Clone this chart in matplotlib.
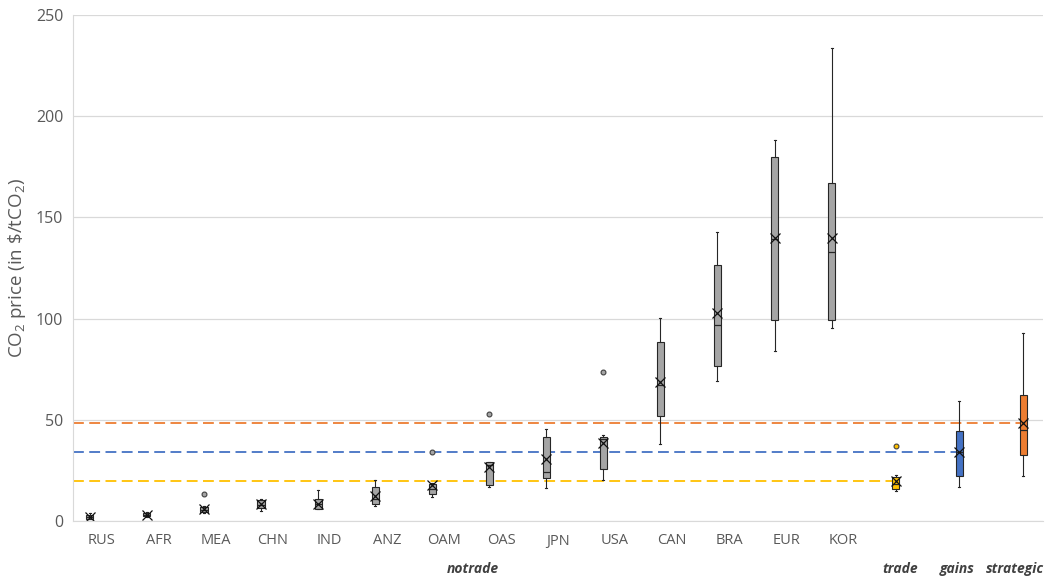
import matplotlib
matplotlib.use("Agg")
import matplotlib.pyplot as plt

plt.rcParams["font.family"] = ["Open Sans", "DejaVu Sans"]
plt.rcParams["mathtext.fontset"] = "custom"
plt.rcParams["mathtext.rm"] = "Open Sans"
plt.rcParams["mathtext.it"] = "Open Sans:italic"

# categories on the axis
regions = ["RUS", "AFR", "MEA", "CHN", "IND", "ANZ", "OAM", "OAS", "JPN", "USA", "CAN", "BRA", "EUR", "KOR"]
groups = ["notrade", "trade", "gains", "strategic"]

# notrade box stats per region
nt_whislo = [0.8, 2.0, 4.0, 4.9, 5.9, 7.4, 12.0, 17.0, 16.2, 20.3, 38.0, 69.2, 84.0, 95.5]
nt_q1 = [1.2, 2.3, 4.6, 6.5, 6.0, 8.4, 13.5, 17.6, 21.4, 25.5, 51.9, 76.7, 99.2, 99.2]
nt_med = [2.0, 3.0, 5.5, 8.0, 8.5, 10.7, 15.6, 27.7, 24.4, 40.7, 67.2, 96.8, 139.5, 132.8]
nt_q3 = [3.2, 4.0, 7.0, 10.4, 10.9, 16.6, 18.1, 29.0, 41.3, 41.7, 88.3, 126.3, 179.8, 166.8]
nt_whishi = [4.0, 4.3, 7.5, 10.8, 15.2, 20.3, 18.9, 29.0, 45.3, 42.6, 100.1, 142.6, 188.1, 233.9]
nt_mean = [2.1, 3.0, 5.9, 8.4, 8.4, 12.4, 17.6, 26.8, 30.5, 38.4, 68.5, 102.8, 139.7, 140.0]
nt_fliers = [[], [], [13.2], [], [], [], [34.2], [53.0], [], [73.8], [], [], [], []]

# world-wide scenarios: trade, gains, strategic
sc_whislo = [14.8, 16.6, 22.4]
sc_q1 = [15.7, 22.2, 32.5]
sc_med = [18.3, 33.9, 45.1]
sc_q3 = [21.6, 44.3, 62.4]
sc_whishi = [22.6, 59.1, 93.0]
sc_mean = [19.8, 33.9, 48.6]
sc_fliers = [[37.2], [], []]
sc_colors = ["#FFC000", "#4472C4", "#ED7D31"]

offsets = [-0.205, -0.085, 0.035, 0.155]


def stats(lo, q1, med, q3, hi, mean, fl):
    return {"whislo": lo, "q1": q1, "med": med, "q3": q3, "whishi": hi, "mean": mean, "fliers": fl}


fig = plt.figure(figsize=(10.56, 5.79), dpi=100)
ax = fig.add_axes([73 / 1056, 58 / 579, 970 / 1056, 506 / 579])

common = dict(widths=0.125, showmeans=True, patch_artist=True, capwidths=0.035,
              whiskerprops=dict(color="#262626", lw=0.8),
              capprops=dict(color="#262626", lw=0.8),
              medianprops=dict(color="#262626", lw=0.9),
              meanprops=dict(marker="x", markersize=6.5, markeredgecolor="#111111", markeredgewidth=0.9))

nt_stats = [stats(*v) for v in zip(nt_whislo, nt_q1, nt_med, nt_q3, nt_whishi, nt_mean, nt_fliers)]
nt_pos = [i + offsets[0] for i in range(len(regions))]
ax.bxp(nt_stats, positions=nt_pos,
       boxprops=dict(facecolor="#A5A5A5", edgecolor="#262626", lw=0.8),
       flierprops=dict(marker="o", markersize=3.5, markerfacecolor="#A5A5A5", markeredgecolor="#404040", markeredgewidth=0.8),
       **common)

n = len(regions)
for k in range(3):
    pos = n + k + offsets[k + 1]
    st = stats(sc_whislo[k], sc_q1[k], sc_med[k], sc_q3[k], sc_whishi[k], sc_mean[k], sc_fliers[k])
    ax.bxp([st], positions=[pos],
           boxprops=dict(facecolor=sc_colors[k], edgecolor="#262626", lw=0.8),
           flierprops=dict(marker="o", markersize=3.5, markerfacecolor=sc_colors[k], markeredgecolor="#404040", markeredgewidth=0.8),
           **common)
    ax.plot([-0.5, pos], [sc_mean[k], sc_mean[k]], color=sc_colors[k], lw=1.3, dashes=(6, 3), zorder=1)

ax.set_xlim(-0.5, n + 2.5)
ax.set_ylim(0, 250)
ax.set_yticks(range(0, 251, 50))
ax.set_xticks(range(n + 3))
ax.set_xticklabels(regions + ["", "", ""])
ax.tick_params(axis="x", length=0, pad=9, labelsize=10.5, labelcolor="#595959")
ax.tick_params(axis="y", length=0, pad=7, labelsize=11.5, labelcolor="#595959")
ax.grid(axis="y", color="#D9D9D9", lw=0.9)
ax.set_axisbelow(True)
for s in ["top", "right"]:
    ax.spines[s].set_visible(False)
ax.spines["left"].set_color("#D9D9D9")
ax.spines["bottom"].set_color("#D9D9D9")

ax.set_ylabel(r"CO$_2$ price (in \$/tCO$_2$)", fontsize=13.5, color="#595959", labelpad=6)

# group labels below the region names
grp_x = [(n - 1) / 2, n, n + 1, n + 2]
for gx, g in zip(grp_x, groups):
    ax.text(gx, -0.095, g, transform=ax.get_xaxis_transform(), ha="center", va="center",
            fontsize=10, fontweight="bold", fontstyle="italic", color="#404040")

fig.savefig("out.png", dpi=100)
